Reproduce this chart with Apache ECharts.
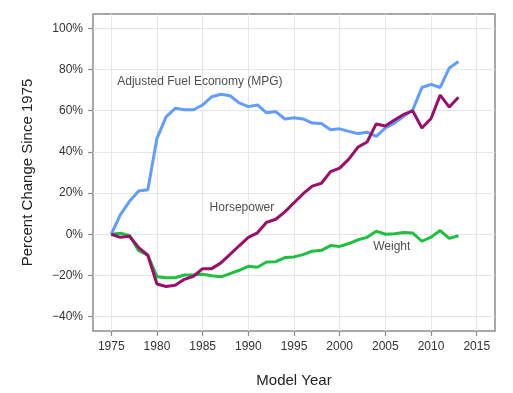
<!DOCTYPE html>
<html>
<head>
<meta charset="utf-8">
<script src="https://cdn.jsdelivr.net/npm/echarts@6/dist/echarts.min.js"></script>
<style>html,body{margin:0;padding:0;background:#fff}#c{width:513px;height:393px}</style>
</head>
<body>
<div id="c"></div>
<script>
const years = [1975,1976,1977,1978,1979,1980,1981,1982,1983,1984,1985,1986,1987,1988,1989,1990,1991,1992,1993,1994,1995,1996,1997,1998,1999,2000,2001,2002,2003,2004,2005,2006,2007,2008,2009,2010,2011,2012,2013];
const mpg = [0,9.5,16,21,21.6,46.6,57,61.2,60.5,60.5,62.8,66.8,68,67.3,63.8,62,62.8,59,59.6,56,56.6,56,54,53.8,50.8,51.2,50,48.9,49.6,47.5,51.7,54,57.3,60.4,71.3,72.8,71.3,80.8,83.9];
const hp = [0,-1.5,-1,-6.5,-10.2,-24.2,-25.4,-24.8,-21.9,-20.4,-16.7,-16.7,-13.9,-9.8,-5.6,-1.5,0.7,5.8,7.3,10.9,15.3,19.7,23.4,24.8,30.4,32.1,36.5,42.3,44.8,53.6,52.6,55.5,58.2,59.9,51.6,56.2,67.6,61.8,66.6];
const weight = [0,0.5,-0.6,-8,-10.2,-20.6,-21.1,-21.1,-19.8,-19.7,-19.4,-20.2,-20.7,-19.1,-17.5,-15.6,-16.0,-13.5,-13.3,-11.3,-11.0,-9.9,-8.2,-7.8,-5.5,-5.9,-4.5,-2.7,-1.5,1.5,0.0,0.2,0.8,0.6,-3.4,-1.4,1.8,-2.0,-0.7];
const xTicks = [1975,1980,1985,1990,1995,2000,2005,2010,2015];
const yTicks = [-40,-20,0,20,40,60,80,100];
const xRange = [1973,2017];
const yRange = [-47,107];
const labelNames = ['Adjusted Fuel Economy (MPG)','Horsepower','Weight'];
const labelX = [1984.7,1989.3,2005.7];
const labelY = [74,13,-6];

const pair = (v) => years.map((y,i)=>[y,v[i]]);
const chart = echarts.init(document.getElementById('c'), null, {renderer:'canvas'});
const font = 'Liberation Sans, Arial, sans-serif';
const gridLine = {show:true, lineStyle:{color:'#e6e6e6', width:1}};
chart.setOption({
  animation:false,
  backgroundColor:'#fff',
  grid:{left:93, top:14, right:18, bottom:61, show:true, borderColor:'#8c8c8c', borderWidth:1.5, backgroundColor:'transparent'},
  xAxis:{type:'value', min:xRange[0], max:xRange[1],
    name:'Model Year', nameLocation:'middle', nameGap:42,
    nameTextStyle:{fontFamily:font, fontSize:15, color:'#222'},
    axisLine:{show:false, onZero:false},
    axisTick:{show:true, inside:false, length:5, customValues:xTicks, lineStyle:{color:'#8c8c8c', width:1.2}},
    axisLabel:{customValues:xTicks, fontFamily:font, fontSize:12, color:'#333', margin:10, formatter:v=>String(v)},
    splitLine:gridLine},
  yAxis:{type:'value', min:yRange[0], max:yRange[1],
    name:'Percent Change Since 1975', nameLocation:'middle', nameGap:58, nameRotate:90,
    nameTextStyle:{fontFamily:font, fontSize:15, color:'#222'},
    axisLine:{show:false, onZero:false},
    axisTick:{show:true, inside:false, length:5, customValues:yTicks, lineStyle:{color:'#8c8c8c', width:1.2}},
    axisLabel:{customValues:yTicks, fontFamily:font, fontSize:12, color:'#333', margin:10, formatter:v=>(v<0?'\u2212'+(-v):v)+'%'},
    splitLine:gridLine},
  series:[
    {type:'line', data:pair(weight), symbol:'none', lineStyle:{color:'#1fbf3f', width:3}, z:3},
    {type:'line', data:pair(mpg), symbol:'none', lineStyle:{color:'#619CFF', width:3}, z:4},
    {type:'line', data:pair(hp), symbol:'none', lineStyle:{color:'#9a0f6a', width:3}, z:5},
    {type:'scatter', symbolSize:0, silent:true, z:6,
      data:labelNames.map((n,i)=>({value:[labelX[i],labelY[i]], name:n})),
      label:{show:true, position:'inside', formatter:p=>p.name, fontFamily:font, fontSize:12, color:'#222'}}
  ]
});
</script>
</body>
</html>
